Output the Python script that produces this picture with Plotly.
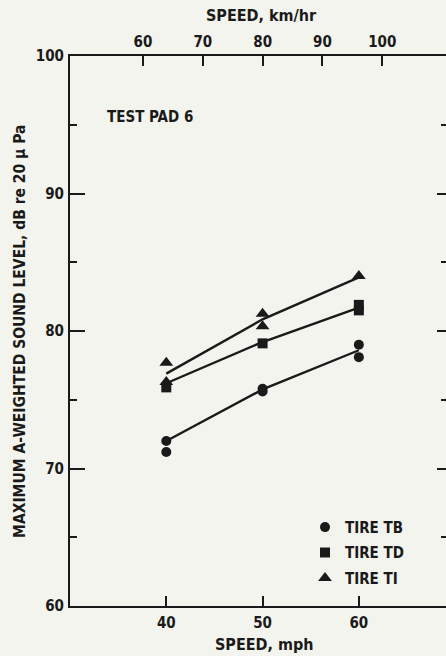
import plotly.graph_objects as go

# ---- data ----
speed_mph = [40, 50, 60]
tb_x = [40, 40, 50, 50, 60, 60]
tb_y = [72.0, 71.2, 75.8, 75.6, 79.0, 78.1]
td_x = [40, 50, 60, 60]
td_y = [75.9, 79.1, 81.5, 81.9]
ti_x = [40, 40, 50, 50, 60]
ti_y = [77.7, 76.3, 81.25, 80.35, 84.0]
tb_line = [72.0, 75.75, 78.6]
td_line = [76.2, 79.2, 81.7]
ti_line = [76.9, 80.85, 83.9]
mph_ticks = [40, 50, 60]
kmh_ticks = [60, 70, 80, 90, 100]
db_ticks = [60, 70, 80, 90, 100]
db_minor = [65, 75, 85, 95]

INK = "#1a1a1a"
BG = "#f4f4ee"
FONT = "Liberation Sans Narrow, Arial Narrow, DejaVu Sans Condensed, sans-serif"

fig = go.Figure()

for yl in (tb_line, td_line, ti_line):
    fig.add_trace(go.Scatter(x=speed_mph, y=yl, mode="lines",
                             line=dict(color=INK, width=2.4), showlegend=False,
                             hoverinfo="skip"))

fig.add_trace(go.Scatter(x=tb_x, y=tb_y, mode="markers", name="TIRE TB", legendgroup="tb",
                         marker=dict(symbol="circle", size=10, color=INK)))
fig.add_trace(go.Scatter(x=td_x, y=td_y, mode="markers", name="TIRE TD", legendgroup="td",
                         marker=dict(symbol="square", size=10, color=INK)))
fig.add_trace(go.Scatter(x=ti_x, y=ti_y, mode="markers", name="TIRE TI", legendgroup="ti",
                         marker=dict(symbol="triangle-up", size=12, color=INK)))

# invisible traces to activate the secondary axes
fig.add_trace(go.Scatter(x=[None], y=[None], xaxis="x2", yaxis="y", showlegend=False))
fig.add_trace(go.Scatter(x=[None], y=[None], xaxis="x", yaxis="y2", showlegend=False))

tickfont = dict(family=FONT, size=15, color=INK, weight="bold")

fig.update_layout(
    width=446, height=656,
    margin=dict(l=70, r=0, t=56, b=50, pad=0),
    paper_bgcolor=BG, plot_bgcolor=BG,
    font=dict(family=FONT, color=INK, weight="bold"),
    xaxis=dict(range=[30, 69.05], tickvals=mph_ticks, ticks="inside", ticklen=10,
               tickwidth=2, tickcolor=INK, showline=True, linewidth=2, linecolor=INK,
               showgrid=False, zeroline=False, tickfont=tickfont, ticklabelstandoff=2),
    xaxis2=dict(range=[47.8, 110.65], tickvals=kmh_ticks, ticks="inside", ticklen=10,
                tickwidth=2, tickcolor=INK, showline=True, linewidth=2, linecolor=INK,
                overlaying="x", side="top", anchor="y", showgrid=False, zeroline=False,
                tickfont=tickfont, ticklabelstandoff=1),
    yaxis=dict(range=[60, 100], tickvals=db_ticks, ticks="inside", ticklen=15,
               tickwidth=2, tickcolor=INK, showline=True, linewidth=2, linecolor=INK,
               showgrid=False, zeroline=False, tickfont=tickfont, ticklabelstandoff=1,
               minor=dict(tickvals=db_minor, ticks="inside", ticklen=7, tickwidth=2,
                          tickcolor=INK, showgrid=False)),
    yaxis2=dict(range=[60, 100], tickvals=db_ticks, ticks="inside", ticklen=9,
                tickwidth=2, tickcolor=INK, showline=False, overlaying="y", side="right",
                anchor="x", showgrid=False, zeroline=False, showticklabels=False,
                minor=dict(tickvals=db_minor, ticks="inside", ticklen=5, tickwidth=2,
                           tickcolor=INK, showgrid=False)),
    legend=dict(x=0.625, y=0.173, xanchor="left", yanchor="top",
                bgcolor="rgba(0,0,0,0)", font=dict(family=FONT, size=15, color=INK, weight="bold"),
                itemwidth=30, tracegroupgap=3),
    showlegend=True,
)

titlefont = dict(family=FONT, size=16, color=INK, weight="bold")
fig.add_annotation(text="SPEED, km/hr", xref="paper", yref="paper", x=0.5106, y=1.0745,
                   xanchor="center", yanchor="middle", showarrow=False, font=titlefont)
fig.add_annotation(text="SPEED, mph", xref="paper", yref="paper", x=0.516, y=-0.0709,
                   xanchor="center", yanchor="middle", showarrow=False, font=titlefont)
fig.add_annotation(text="MAXIMUM A-WEIGHTED SOUND LEVEL, dB re 20 μ Pa", xref="paper",
                   yref="paper", x=-0.133, y=0.5, textangle=-90, xanchor="center",
                   yanchor="middle", showarrow=False,
                   font=dict(family=FONT, size=15.5, color=INK, weight="bold"))
fig.add_annotation(text="TEST PAD 6", xref="paper", yref="paper", x=0.0931, y=0.889,
                   xanchor="left", yanchor="middle", showarrow=False,
                   font=dict(family=FONT, size=15, color=INK, weight="bold"))

fig.write_html("out.html")
